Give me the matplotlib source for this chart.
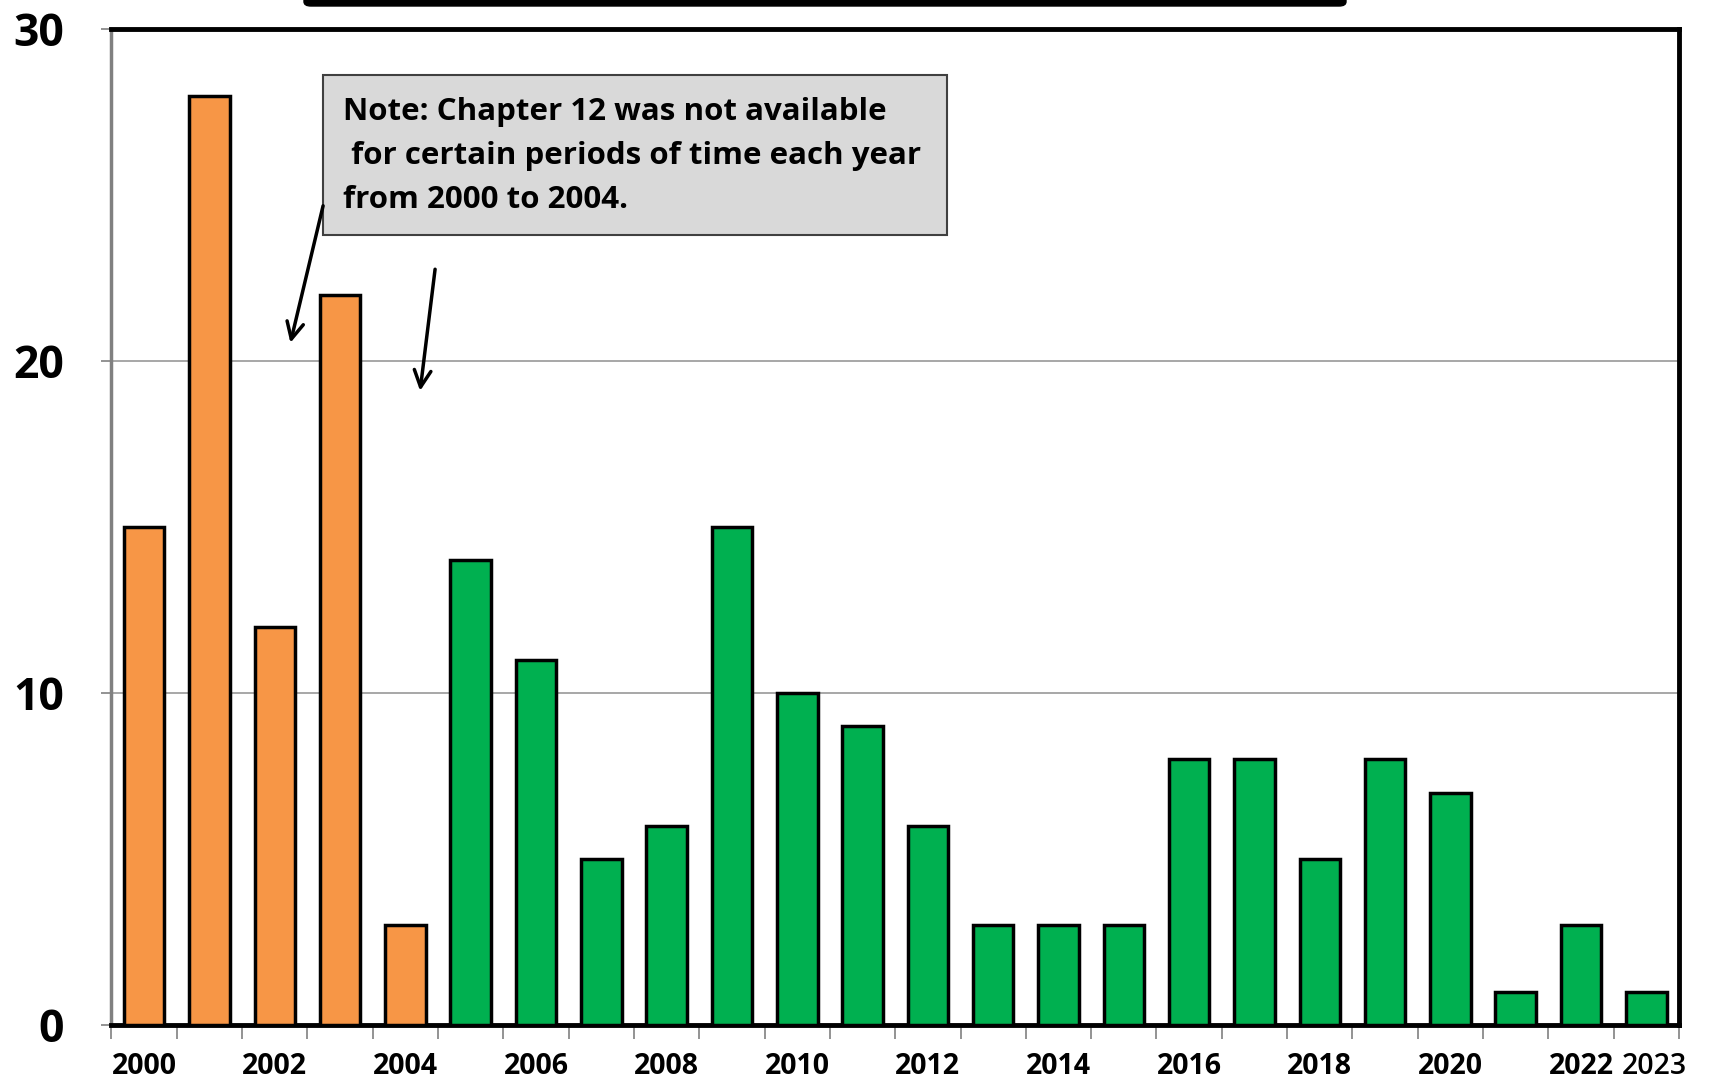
import matplotlib.pyplot as plt
from matplotlib.patches import FancyBboxPatch

years = list(range(2000, 2024))
counts = [15, 28, 12, 22, 3, 14, 11, 5, 6, 15, 10, 9, 6, 3, 3, 3, 8, 8, 5, 8, 7, 1, 3, 1]
orange_years = [2000, 2001, 2002, 2003, 2004]
label_years = [2000, 2002, 2004, 2006, 2008, 2010, 2012, 2014, 2016, 2018, 2020, 2022]
y_ticks = [0, 10, 20, 30]
note = "Note: Chapter 12 was not available\n for certain periods of time each year\nfrom 2000 to 2004."

plt.rcParams['font.family'] = ['Open Sans', 'DejaVu Sans']

fig = plt.figure(figsize=(17.15, 10.79), dpi=100)
ax = fig.add_axes([0.065, 0.050, 0.914, 0.923])

colors = ['#F79646' if y in orange_years else '#00B050' for y in years]
x = list(range(len(years)))
ax.bar(x, counts, width=0.62, color=colors, edgecolor='black', linewidth=2.5, zorder=3)

ax.set_xlim(-0.5, len(years) - 0.5)
ax.set_ylim(0, 30)

# y axis
ax.set_yticks(y_ticks)
ax.set_yticklabels([str(v) for v in y_ticks], fontsize=32, fontweight='bold')
ax.tick_params(axis='y', length=7, width=1.2, color='#808080', pad=27)
ax.grid(axis='y', color='#a0a0a0', linewidth=1.3, zorder=0)

# x axis: ticks between categories, labels under chosen years
ax.set_xticks([i - 0.5 for i in range(len(years) + 1)])
ax.set_xticklabels([])
ax.tick_params(axis='x', length=10, width=1.2, color='#808080')
for i, y in enumerate(years):
    if y in label_years:
        ax.text(i, -1.25, str(y), ha='center', va='center', fontsize=20.5,
                fontweight='bold')
ax.text(len(years) - 1 + 0.12, -1.25, str(years[-1]), ha='center', va='center',
        fontsize=20.5, fontweight='semibold')

for side in ['top', 'right', 'bottom']:
    ax.spines[side].set_color('black')
    ax.spines[side].set_linewidth(3.5)
ax.spines['left'].set_color('#808080')
ax.spines['left'].set_linewidth(2.5)

# note box
ax.text(0.148, 0.932, note, transform=ax.transAxes, ha='left', va='top',
        fontsize=22.5, fontweight='bold', linespacing=1.62, zorder=5)
box = FancyBboxPatch((0.1347, 0.793), 0.3983, 0.161, boxstyle='square,pad=0',
                     transform=ax.transAxes, facecolor='#d9d9d9',
                     edgecolor='#404040', linewidth=1.5, zorder=4)
ax.add_patch(box)

# arrows
ax.annotate('', xy=(2.23, 20.47), xytext=(2.75, 24.76),
            arrowprops=dict(arrowstyle='->', color='black', lw=2.5, mutation_scale=30), zorder=6)
ax.annotate('', xy=(4.22, 19.02), xytext=(4.46, 22.85),
            arrowprops=dict(arrowstyle='->', color='black', lw=2.5, mutation_scale=30), zorder=6)

# top edge of a cut-off title box
title_bar = FancyBboxPatch((304 / 1715, 1 - 6 / 1079), (1346 - 304) / 1715, 0.05,
                           boxstyle='round,pad=0,rounding_size=0.004',
                           transform=fig.transFigure, facecolor='black',
                           edgecolor='black', clip_on=False)
fig.patches.append(title_bar)

fig.savefig('out.png', dpi=100)
